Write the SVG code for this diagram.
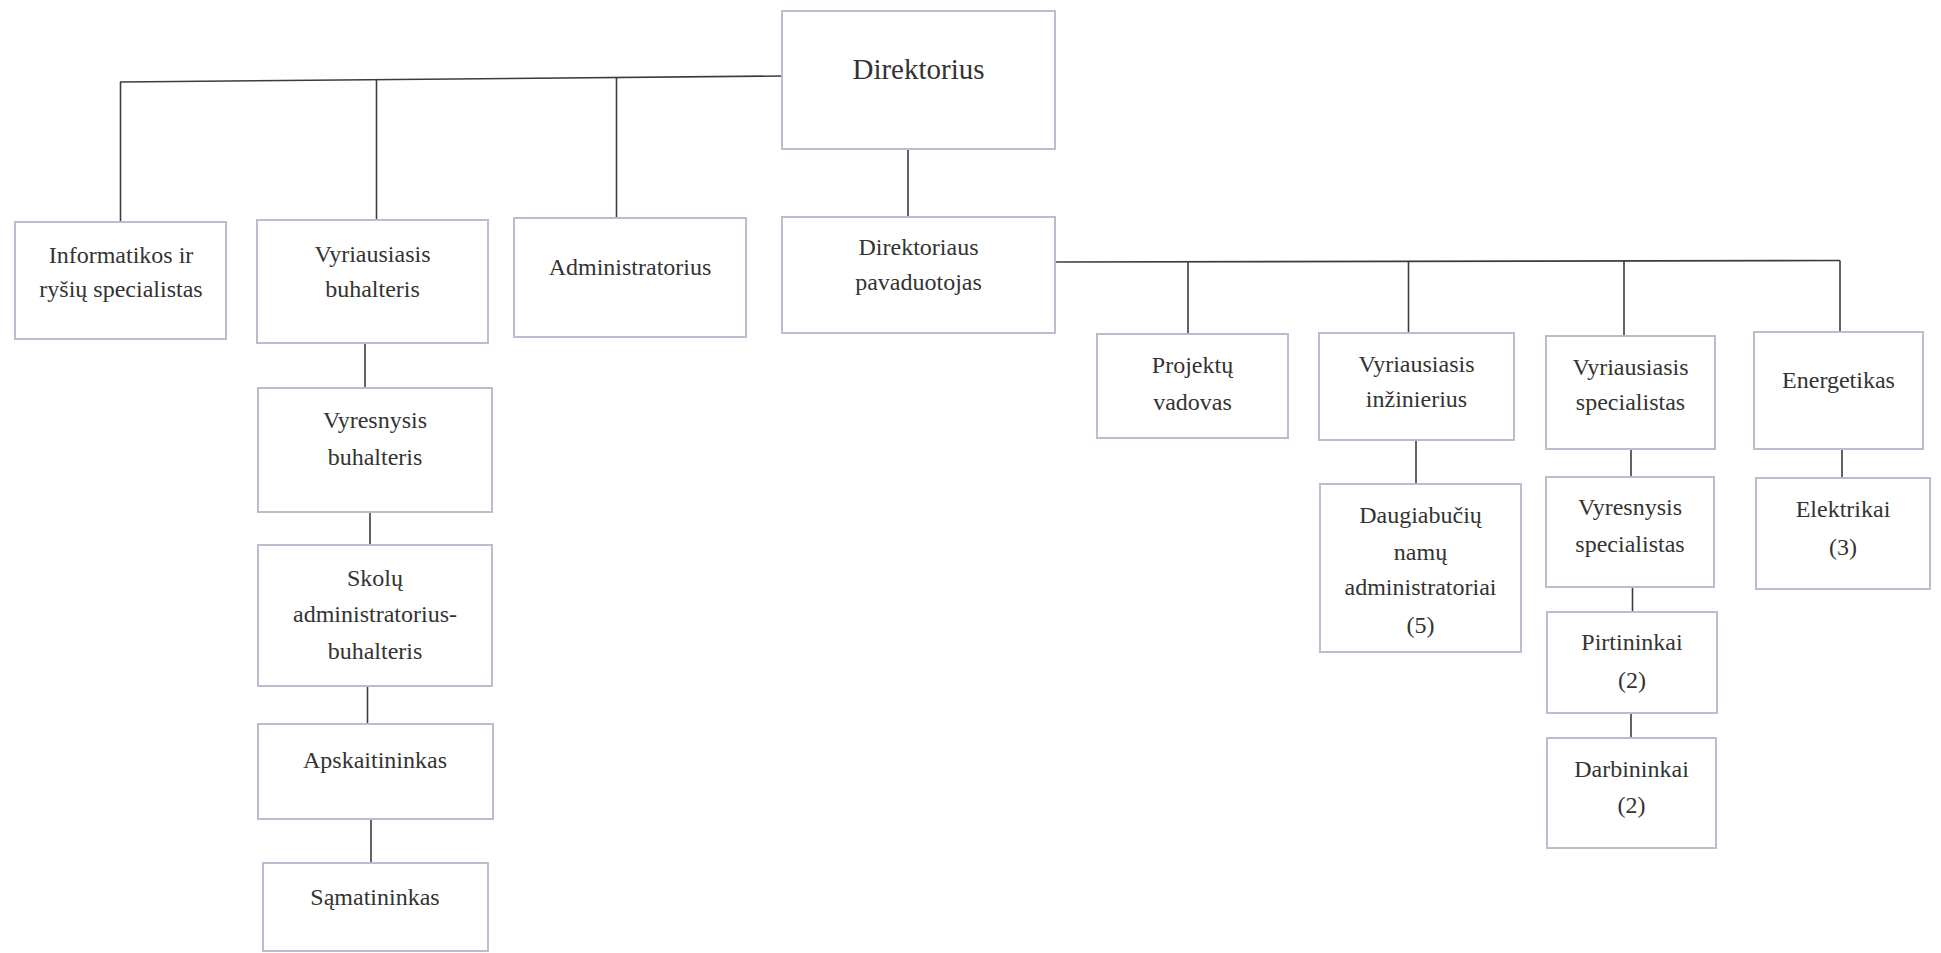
<svg xmlns="http://www.w3.org/2000/svg" width="1941" height="953" viewBox="0 0 1941 953">
<style>
.box{fill:#ffffff;stroke:#b8bdcf;stroke-width:2}
.t{font-family:"Liberation Serif","Times New Roman",serif;font-size:24px;fill:#333333;text-anchor:middle}
.big{font-size:29px}
.c{stroke:#3c3c3c;stroke-width:1.6;fill:none}
</style>
<rect width="1941" height="953" fill="#ffffff"/>
<g id="connectors">
<path class="c" d="M120,82 L782,76"/>
<path class="c" d="M120.5,82 V222"/>
<path class="c" d="M376.5,80 V220"/>
<path class="c" d="M616.5,78 V218"/>
<path class="c" d="M908,150 V217"/>
<path class="c" d="M1056,262 L1840,260.5"/>
<path class="c" d="M1188,262 V334"/>
<path class="c" d="M1408.5,261.5 V333"/>
<path class="c" d="M1624,261 V336"/>
<path class="c" d="M1840,260.5 V332"/>
<path class="c" d="M1416,440 V484"/>
<path class="c" d="M1631,449 V477"/>
<path class="c" d="M1842,449 V478"/>
<path class="c" d="M1632.5,587 V612"/>
<path class="c" d="M1631,713 V738"/>
<path class="c" d="M365,343 V388"/>
<path class="c" d="M370,512 V545"/>
<path class="c" d="M367.5,686 V724"/>
<path class="c" d="M371,819 V863"/>
</g>
<g id="direktorius">
<rect class="box" x="782" y="11" width="273" height="138"/>
<text class="t big" x="918.5" y="79">Direktorius</text>
</g>
<g id="informatikos">
<rect class="box" x="15" y="222" width="211" height="117"/>
<text class="t" x="121" y="263">Informatikos ir</text>
<text class="t" x="121" y="297">ryšių specialistas</text>
</g>
<g id="vyr-buhalteris">
<rect class="box" x="257" y="220" width="231" height="123"/>
<text class="t" x="372.5" y="262">Vyriausiasis</text>
<text class="t" x="372.5" y="297">buhalteris</text>
</g>
<g id="administratorius">
<rect class="box" x="514" y="218" width="232" height="119"/>
<text class="t" x="630" y="275">Administratorius</text>
</g>
<g id="pavaduotojas">
<rect class="box" x="782" y="217" width="273" height="116"/>
<text class="t" x="918.5" y="255">Direktoriaus</text>
<text class="t" x="918.5" y="290">pavaduotojas</text>
</g>
<g id="vyresnysis-buhalteris">
<rect class="box" x="258" y="388" width="234" height="124"/>
<text class="t" x="375" y="428">Vyresnysis</text>
<text class="t" x="375" y="465">buhalteris</text>
</g>
<g id="skolu">
<rect class="box" x="258" y="545" width="234" height="141"/>
<text class="t" x="375" y="586">Skolų</text>
<text class="t" x="375" y="622">administratorius-</text>
<text class="t" x="375" y="659">buhalteris</text>
</g>
<g id="apskaitininkas">
<rect class="box" x="258" y="724" width="235" height="95"/>
<text class="t" x="375" y="768">Apskaitininkas</text>
</g>
<g id="samatininkas">
<rect class="box" x="263" y="863" width="225" height="88"/>
<text class="t" x="375" y="905">Sąmatininkas</text>
</g>
<g id="projektu-vadovas">
<rect class="box" x="1097" y="334" width="191" height="104"/>
<text class="t" x="1192.5" y="373">Projektų</text>
<text class="t" x="1192.5" y="410">vadovas</text>
</g>
<g id="vyr-inzinierius">
<rect class="box" x="1319" y="333" width="195" height="107"/>
<text class="t" x="1416.5" y="372">Vyriausiasis</text>
<text class="t" x="1416.5" y="407">inžinierius</text>
</g>
<g id="vyr-specialistas">
<rect class="box" x="1546" y="336" width="169" height="113"/>
<text class="t" x="1630.5" y="375">Vyriausiasis</text>
<text class="t" x="1630.5" y="410">specialistas</text>
</g>
<g id="energetikas">
<rect class="box" x="1754" y="332" width="169" height="117"/>
<text class="t" x="1838.5" y="388">Energetikas</text>
</g>
<g id="daugiabuciu">
<rect class="box" x="1320" y="484" width="201" height="168"/>
<text class="t" x="1420.5" y="523">Daugiabučių</text>
<text class="t" x="1420.5" y="560">namų</text>
<text class="t" x="1420.5" y="595">administratoriai</text>
<text class="t" x="1420.5" y="633">(5)</text>
</g>
<g id="vyresnysis-specialistas">
<rect class="box" x="1546" y="477" width="168" height="110"/>
<text class="t" x="1630" y="515">Vyresnysis</text>
<text class="t" x="1630" y="552">specialistas</text>
</g>
<g id="elektrikai">
<rect class="box" x="1756" y="478" width="174" height="111"/>
<text class="t" x="1843" y="517">Elektrikai</text>
<text class="t" x="1843" y="555">(3)</text>
</g>
<g id="pirtininkai">
<rect class="box" x="1547" y="612" width="170" height="101"/>
<text class="t" x="1632" y="650">Pirtininkai</text>
<text class="t" x="1632" y="688">(2)</text>
</g>
<g id="darbininkai">
<rect class="box" x="1547" y="738" width="169" height="110"/>
<text class="t" x="1631.5" y="777">Darbininkai</text>
<text class="t" x="1631.5" y="813">(2)</text>
</g>
</svg>
